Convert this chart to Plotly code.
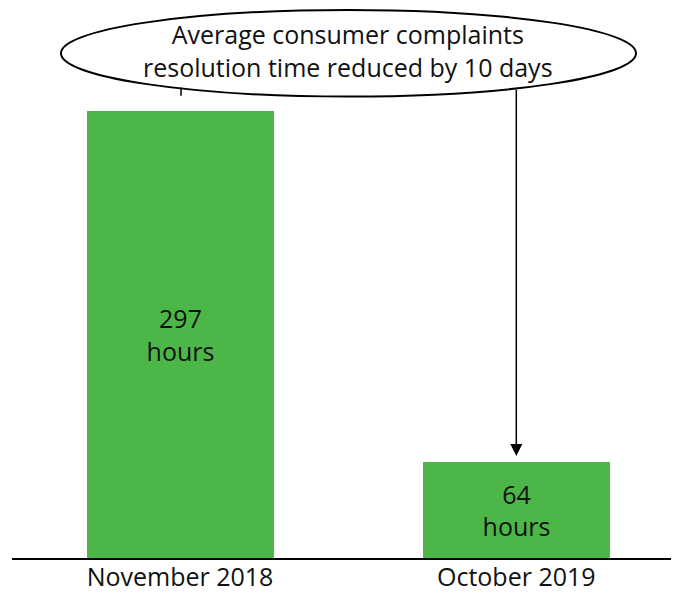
import plotly.graph_objects as go

categories = ["November 2018", "October 2019"]
hours = [297, 64]
bar_labels = [f"{h}<br>hours" for h in hours]
callout = "Average consumer complaints<br>resolution time reduced by 10 days"

GREEN = "#4cb648"
FONT = "Open Sans"

fig = go.Figure()
fig.add_trace(go.Bar(
    x=[0, 1], y=hours, width=0.556,
    marker=dict(color=GREEN, line=dict(width=0)),
    text=bar_labels, textposition="inside", insidetextanchor="middle",
    textfont=dict(family=FONT, size=25, color="#111111"),
    textangle=0, showlegend=False, hoverinfo="skip",
))

# callout ellipse
fig.add_shape(type="circle", xref="x", yref="y",
              x0=-0.354, x1=1.356, y0=306.9, y1=364.5,
              line=dict(color="black", width=2), fillcolor="white", layer="above")
fig.add_annotation(x=0.5, y=337.5, xref="x", yref="y", text=callout,
                   showarrow=False, font=dict(family=FONT, size=25, color="#111111"))

# connector from first bar to ellipse
fig.add_shape(type="line", xref="x", yref="y", x0=0.003, x1=0.003,
              y0=hours[0] + 10.5, y1=313, line=dict(color="black", width=1.5))

# arrow from ellipse to second bar
fig.add_annotation(x=1.0, y=hours[1] + 3.8, ax=1.0, ay=312.5,
                   xref="x", yref="y", axref="x", ayref="y",
                   text="", showarrow=True, arrowhead=2, arrowsize=1.6,
                   arrowwidth=1.5, arrowcolor="black", standoff=0)

fig.update_layout(
    width=671, height=585,
    margin=dict(l=4, r=0, t=0, b=35),
    paper_bgcolor="white", plot_bgcolor="white",
    bargap=0,
    xaxis=dict(
        range=[-0.4996, 1.4838], tickvals=[0, 1], ticktext=categories,
        showgrid=False, zeroline=False, showline=True,
        linecolor="black", linewidth=1.5, ticks="",
        tickfont=dict(family=FONT, size=25, color="#111111"),
        ticklabelstandoff=-4,
        automargin=False, fixedrange=True,
    ),
    yaxis=dict(range=[0, 365.8], visible=False, automargin=False, fixedrange=True),
)

fig.write_html("out.html")
